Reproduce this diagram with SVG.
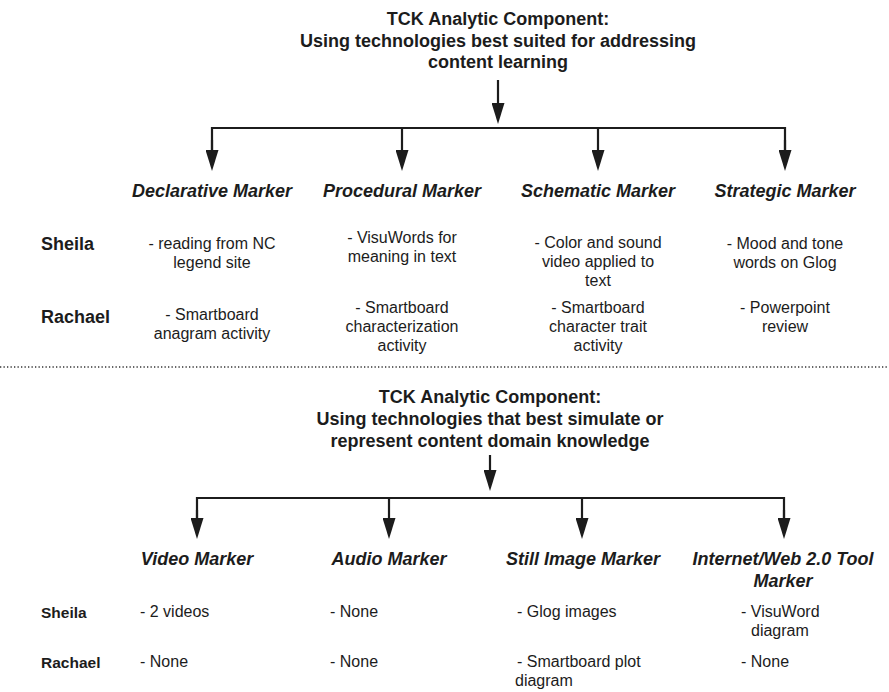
<svg xmlns="http://www.w3.org/2000/svg" width="889" height="692" viewBox="0 0 889 692">
<style>
text{font-family:"Liberation Sans",Arial,sans-serif;fill:#1c1c1c}
.title{font-size:18px;font-weight:bold;text-anchor:middle}
.mk{font-size:18px;font-weight:bold;font-style:italic;text-anchor:middle}
.who{font-size:18px;font-weight:bold}
.who2{font-size:15.5px;font-weight:bold}
.body{font-size:16px}
.c{text-anchor:middle}
.ln{stroke:#1c1c1c;stroke-width:2.2;fill:none}
.dot{stroke:#333;stroke-width:1.3;stroke-dasharray:1.3 2.2;fill:none}
</style>
<defs>
<marker id="ah" markerUnits="userSpaceOnUse" markerWidth="21" markerHeight="13" refX="0" refY="6.5" orient="auto" viewBox="0 0 21 13">
<path d="M0,0 L21,6.5 L0,13 Z" fill="#1c1c1c"/>
</marker>
</defs>

<g id="title-top">
<text class="title" x="498" y="25">TCK Analytic Component:</text>
<text class="title" x="498" y="47">Using technologies best suited for addressing</text>
<text class="title" x="498" y="68">content learning</text>
</g>

<g id="connectors">
<line class="ln" x1="498" y1="80" x2="498" y2="103" marker-end="url(#ah)"/>
<polyline class="ln" points="212,150 212,128 785,128 785,150"/>
<line class="ln" x1="212" y1="140" x2="212" y2="150" marker-end="url(#ah)"/>
<line class="ln" x1="402" y1="128" x2="402" y2="150" marker-end="url(#ah)"/>
<line class="ln" x1="598" y1="128" x2="598" y2="150" marker-end="url(#ah)"/>
<line class="ln" x1="785" y1="140" x2="785" y2="150" marker-end="url(#ah)"/>
<line class="dot" x1="0" y1="367" x2="889" y2="367"/>
<line class="ln" x1="490" y1="455" x2="490" y2="470" marker-end="url(#ah)"/>
<polyline class="ln" points="197,518 197,498 784,498 784,518"/>
<line class="ln" x1="197" y1="510" x2="197" y2="518" marker-end="url(#ah)"/>
<line class="ln" x1="389" y1="498" x2="389" y2="518" marker-end="url(#ah)"/>
<line class="ln" x1="582" y1="498" x2="582" y2="518" marker-end="url(#ah)"/>
<line class="ln" x1="784" y1="510" x2="784" y2="518" marker-end="url(#ah)"/>
</g>

<g id="declarative">
<text class="mk" x="212" y="197">Declarative Marker</text>
<text class="body c" x="212" y="249">- reading from NC</text>
<text class="body c" x="212" y="268">legend site</text>
<text class="body c" x="212" y="320">- Smartboard</text>
<text class="body c" x="212" y="339">anagram activity</text>
</g>
<g id="procedural">
<text class="mk" x="402" y="197">Procedural Marker</text>
<text class="body c" x="402" y="243">- VisuWords for</text>
<text class="body c" x="402" y="262">meaning in text</text>
<text class="body c" x="402" y="313">- Smartboard</text>
<text class="body c" x="402" y="332">characterization</text>
<text class="body c" x="402" y="351">activity</text>
</g>
<g id="schematic">
<text class="mk" x="598" y="197">Schematic Marker</text>
<text class="body c" x="598" y="248">- Color and sound</text>
<text class="body c" x="598" y="267">video applied to</text>
<text class="body c" x="598" y="286">text</text>
<text class="body c" x="598" y="313">- Smartboard</text>
<text class="body c" x="598" y="332">character trait</text>
<text class="body c" x="598" y="351">activity</text>
</g>
<g id="strategic">
<text class="mk" x="785" y="197">Strategic Marker</text>
<text class="body c" x="785" y="249">- Mood and tone</text>
<text class="body c" x="785" y="268">words on Glog</text>
<text class="body c" x="785" y="313">- Powerpoint</text>
<text class="body c" x="785" y="332">review</text>
</g>
<g id="names-top">
<text class="who" x="41" y="250">Sheila</text>
<text class="who" x="41" y="323">Rachael</text>
</g>

<g id="title-bottom">
<text class="title" x="490" y="403">TCK Analytic Component:</text>
<text class="title" x="490" y="425">Using technologies that best simulate or</text>
<text class="title" x="490" y="447">represent content domain knowledge</text>
</g>

<g id="video">
<text class="mk" x="197" y="565">Video Marker</text>
<text class="body" x="140" y="617">- 2 videos</text>
<text class="body" x="140" y="667">- None</text>
</g>
<g id="audio">
<text class="mk" x="389" y="565">Audio Marker</text>
<text class="body" x="330" y="617">- None</text>
<text class="body" x="330" y="667">- None</text>
</g>
<g id="still-image">
<text class="mk" x="583" y="565">Still Image Marker</text>
<text class="body" x="517" y="617">- Glog images</text>
<text class="body" x="517" y="667">- Smartboard plot</text>
<text class="body" x="515" y="686">diagram</text>
</g>
<g id="internet">
<text class="mk" x="783" y="565">Internet/Web 2.0 Tool</text>
<text class="mk" x="783" y="587">Marker</text>
<text class="body" x="741" y="617">- VisuWord</text>
<text class="body" x="751" y="636">diagram</text>
<text class="body" x="741" y="667">- None</text>
</g>
<g id="names-bottom">
<text class="who2" x="41" y="618">Sheila</text>
<text class="who2" x="41" y="668">Rachael</text>
</g>
</svg>
